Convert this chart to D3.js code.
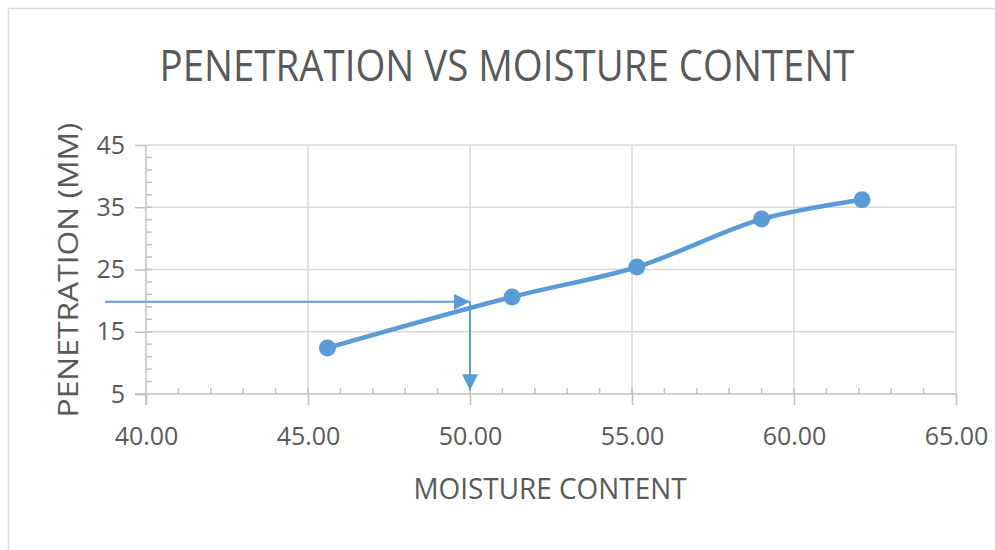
<!DOCTYPE html>
<html>
<head>
<meta charset="utf-8">
<script src="https://cdn.jsdelivr.net/npm/d3@7"></script>
<style>
  body { margin: 0; background: #fff; }
  text { font-family: "Open Sans", "Noto Sans", sans-serif; fill: #595959; }
</style>
</head>
<body>
<div id="chart"></div>
<script>
// Data
const moisture = [45.6, 51.3, 55.15, 59.0, 62.1];
const penetration = [12.4, 20.6, 25.4, 33.1, 36.2];
const xTicks = [40, 45, 50, 55, 60, 65];
const yTicks = [5, 15, 25, 35, 45];
// guide arrows: horizontal then vertical
const arrowH = [[38.73, 19.8], [50, 19.8]];
const arrowV = [[50, 19.8], [50, 5.6]];

const W = 995, H = 550;
const svg = d3.select("#chart").append("svg")
  .attr("width", W).attr("height", H);

// chart border
svg.append("rect")
  .attr("x", 8.5).attr("y", 8.5)
  .attr("width", W).attr("height", H)
  .attr("fill", "#fff").attr("stroke", "#d9d9d9").attr("stroke-width", 1.5);

const x = d3.scaleLinear().domain([40, 65]).range([146, 956]);
const y = d3.scaleLinear().domain([5, 45]).range([394, 145]);

// gridlines
svg.append("g").selectAll("line")
  .data(yTicks.slice(1))
  .join("line")
  .attr("x1", x(40)).attr("x2", x(65))
  .attr("y1", d => y(d)).attr("y2", d => y(d))
  .attr("stroke", "#d9d9d9").attr("stroke-width", 1.5);

svg.append("g").selectAll("line")
  .data(xTicks.slice(1))
  .join("line")
  .attr("x1", d => x(d)).attr("x2", d => x(d))
  .attr("y1", y(5)).attr("y2", y(45))
  .attr("stroke", "#d9d9d9").attr("stroke-width", 1.5);

// minor ticks (inside)
const axisColor = "#bfbfbf";
svg.append("g").selectAll("line")
  .data(d3.range(41, 65))
  .join("line")
  .attr("x1", d => x(d)).attr("x2", d => x(d))
  .attr("y1", y(5)).attr("y2", y(5) - 6)
  .attr("stroke", axisColor).attr("stroke-width", 1.5);

svg.append("g").selectAll("line")
  .data(d3.range(7, 45, 2))
  .join("line")
  .attr("x1", x(40)).attr("x2", x(40) + 6)
  .attr("y1", d => y(d)).attr("y2", d => y(d))
  .attr("stroke", axisColor).attr("stroke-width", 1.5);

// axes
const xAxis = svg.append("g")
  .attr("transform", `translate(0,${y(5)})`)
  .call(d3.axisBottom(x).tickValues(xTicks).tickFormat(d3.format(".2f")).tickSize(11).tickPadding(22));
const yAxis = svg.append("g")
  .attr("transform", `translate(${x(40)},0)`)
  .call(d3.axisLeft(y).tickValues(yTicks).tickSize(11).tickPadding(10));

[xAxis, yAxis].forEach(a => {
  a.select(".domain").attr("stroke", axisColor).attr("stroke-width", 1.5);
  a.selectAll(".tick line").attr("stroke", axisColor).attr("stroke-width", 1.5);
  a.selectAll("text").attr("fill", "#595959").style("font-size", "25px");
});
xAxis.selectAll(".domain").attr("d", `M${x(40) - 11},0H${x(65)}`);
yAxis.selectAll(".domain").attr("d", `M0,${y(45)}V${y(5) + 11}`);

// series line (smoothed)
const pts = moisture.map((m, i) => [m, penetration[i]]);
const color = "#5b9bd5";
svg.append("path")
  .datum(pts)
  .attr("fill", "none")
  .attr("stroke", color)
  .attr("stroke-width", 4.5)
  .attr("stroke-linecap", "round")
  .attr("d", d3.line().x(d => x(d[0])).y(d => y(d[1])).curve(d3.curveCatmullRom.alpha(0.5)));

svg.append("g").selectAll("circle")
  .data(pts)
  .join("circle")
  .attr("cx", d => x(d[0])).attr("cy", d => y(d[1]))
  .attr("r", 8.5)
  .attr("fill", color);

// arrows
const defs = svg.append("defs");
defs.append("marker")
  .attr("id", "arrow")
  .attr("viewBox", "0 0 10 10")
  .attr("refX", 10).attr("refY", 5)
  .attr("markerWidth", 8).attr("markerHeight", 8)
  .attr("markerUnits", "strokeWidth")
  .attr("orient", "auto")
  .append("path")
  .attr("d", "M0,0L10,5L0,10Z")
  .attr("fill", color);

const arrowLine = d3.line().x(d => x(d[0])).y(d => y(d[1]));
[arrowH, arrowV].forEach(a => {
  svg.append("path")
    .attr("d", arrowLine(a))
    .attr("stroke", color)
    .attr("stroke-width", 2)
    .attr("fill", "none")
    .attr("marker-end", "url(#arrow)");
});

// titles
svg.append("text")
  .attr("x", 507).attr("y", 81)
  .attr("text-anchor", "middle")
  .attr("textLength", 695)
  .attr("lengthAdjust", "spacingAndGlyphs")
  .style("font-size", "43px")
  .text("PENETRATION VS MOISTURE CONTENT");

svg.append("text")
  .attr("transform", "translate(78,270) rotate(-90)")
  .attr("text-anchor", "middle")
  .attr("textLength", 295)
  .attr("lengthAdjust", "spacingAndGlyphs")
  .style("font-size", "28px")
  .text("PENETRATION (MM)");

svg.append("text")
  .attr("x", 550).attr("y", 499)
  .attr("text-anchor", "middle")
  .attr("textLength", 273)
  .attr("lengthAdjust", "spacingAndGlyphs")
  .style("font-size", "29px")
  .text("MOISTURE CONTENT");
</script>
</body>
</html>
